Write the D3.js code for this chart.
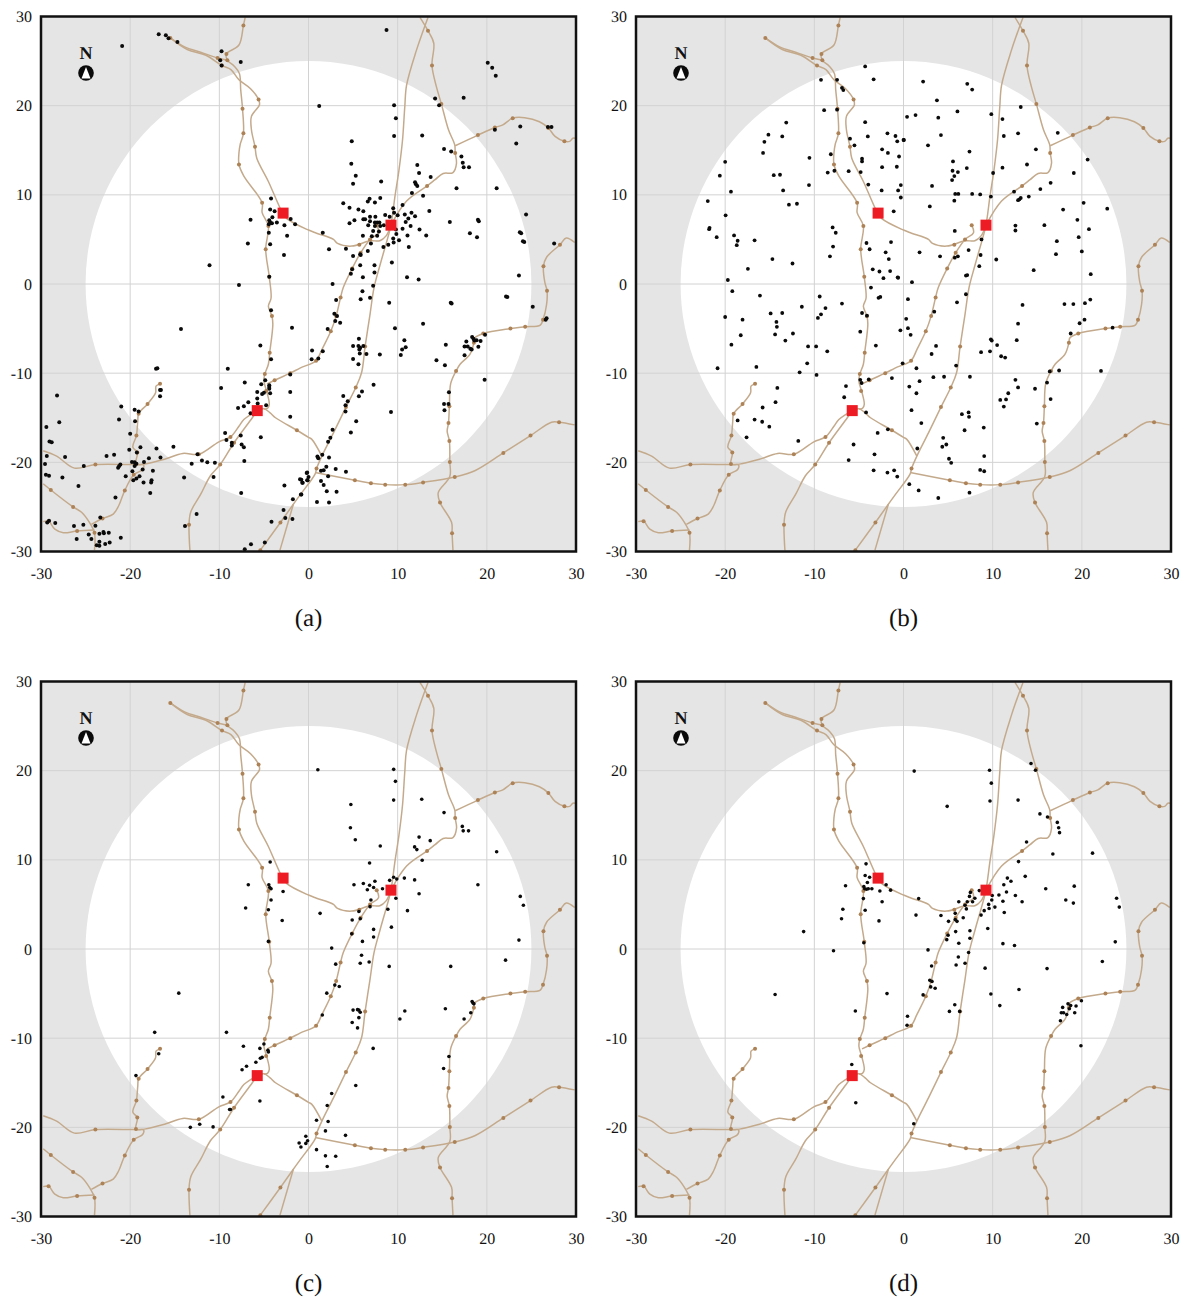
<!DOCTYPE html>
<html>
<head>
<meta charset="utf-8">
<script src="https://cdn.jsdelivr.net/npm/d3@7"></script>
<style>
  html, body { margin: 0; padding: 0; background: #fff; }
  svg { display: block; }
  text { font-family: "Liberation Serif", serif; fill: #111; text-rendering: geometricPrecision; }
</style>
</head>
<body>
<script>
// Tick labels and panel captions
const tickValues = [-30, -20, -10, 0, 10, 20, 30];
const panelLabels = ['(a)', '(b)', '(c)', '(d)'];

// Red squares
const hubs = [[-2.85, 7.95], [9.25, 6.6], [-5.75, -14.2]];

// Road network
const roads = [
  [[-7.1, 29.9], [-7.3, 29], [-7.8, 26.8], [-9.2, 25.8], [-9.1, 25.1], [-8.3, 24.4], [-7.75, 23.6], [-7.6, 21.75], [-7.4, 19.65], [-7.3, 16.9], [-7.65, 15.7], [-7.8, 14.7], [-7.8, 13.4], [-7.25, 12.1], [-5.2, 9.1], [-5.2, 8], [-4.5, 6.5], [-4.8, 3.9], [-4.4, 0.8], [-4.2, -1.6], [-4.5, -2.5], [-4.1, -3.6], [-4, -4.5], [-4.35, -7.7], [-4.5, -9], [-4.9, -10.1], [-5, -10.9], [-4.7, -12], [-4.4, -13.5], [-4.6, -13.95], [-5, -14]],
  [[-15.5, 27.6], [-13.9, 26.6], [-12.1, 26], [-10.2, 25.35], [-9.1, 25.1]],
  [[-15.5, 27.6], [-13.6, 26.3], [-11.5, 25.65], [-9.7, 24.5], [-8.7, 24.05], [-7.8, 22.9], [-6.5, 21.9], [-5.6, 20.7], [-5.5, 20.1], [-6.4, 18.8], [-6.4, 17.3], [-6, 15.4], [-5.8, 14.1], [-4.5, 11.5], [-3.2, 8.55], [-2.85, 7.95]],
  [[-2.85, 7.95], [-2.4, 7.3], [0, 6.05], [0.9, 5.7], [2.8, 5], [3.25, 4.55], [4.85, 4.25], [6.9, 4.85], [8, 4.85], [8.7, 5.4], [9.25, 6.6]],
  [[7.65, 6.6], [7.85, 5.75], [6.9, 5], [5.85, 3.5], [4.9, 1.75], [3.9, -0.4], [3.6, -1.5], [3.1, -3.6], [2.5, -5.3], [1.5, -7.35], [0.85, -8.6], [-0.9, -9.4], [-2.05, -10], [-3.8, -10.8], [-4.65, -11.2]],
  [[13.4, 29.9], [12.1, 26.2], [11, 22.3], [10.8, 19.9], [10.55, 16.2], [10.15, 12.8], [9.7, 9.85], [9.25, 6.6], [8.95, 5.4], [8, 2.05], [7.35, -0.4], [6.9, -3.4], [6.35, -7], [5.95, -9.95], [5.3, -11.6], [4.2, -13.8], [2.8, -16.7], [1.5, -19.3], [0.9, -20.7], [0.75, -21.3], [-0.9, -23.6], [-1.7, -24.7], [-3.15, -26.75], [-5.4, -29.85]],
  [[-1.7, -24.7], [-3.2, -29.85]],
  [[12.5, 29.9], [13.4, 28.4], [14.05, 27], [13.85, 24.5], [14.35, 22.1], [14.9, 20.2], [15.7, 17.3], [16.4, 15.6], [16.45, 14.7], [16.6, 13.55], [16.2, 12.5], [15.1, 12.4], [14.2, 11.7], [13.3, 11], [11, 9.3], [9.25, 6.6]],
  [[16.45, 15.5], [19, 16.7], [20.9, 17.55], [21.8, 17.85], [22.9, 18.6], [24.25, 18.65], [25.9, 18.2], [26.9, 17.5], [27.65, 16.55], [28.7, 16], [29.3, 16], [29.65, 16.35], [29.9, 16.35]],
  [[29.85, 4.65], [28.9, 5.15], [28.2, 4.4], [26.7, 3], [26.35, 2], [26.5, 0.2], [26.75, -0.75], [26.7, -2.3], [26.3, -4], [26, -4.6], [24.3, -4.8], [22.65, -5], [19.6, -5.55], [18.65, -6.05], [18.55, -6.6], [18.1, -7.9], [17, -9], [16.55, -9.75], [15.95, -11.15], [15.8, -13.7], [15.7, -15.6], [15.55, -16.5], [15.8, -17.6], [15.85, -19.95], [15.85, -21.6], [14.55, -23.4], [14.75, -24.5], [16.05, -26.75], [16.1, -27.95], [16.2, -29.85]],
  [[0.75, -21.15], [5.2, -22], [7, -22.35], [8.6, -22.5], [10.85, -22.5], [12.85, -22.25], [16.4, -21.65], [18.65, -20.95], [21.85, -18.95], [24.9, -17], [27.25, -15.5], [28.1, -15.5], [29.85, -15.8]],
  [[-5.75, -14.2], [-5, -14], [-4.3, -14.45], [-3.7, -15], [-1.3, -16.4], [0, -17.2], [0.35, -17.4], [1.5, -19.3]],
  [[-5.75, -14.2], [-7.25, -15.2], [-7.8, -15.95], [-8.75, -17.15], [-10.05, -17.7], [-12.3, -19.1], [-14.1, -19], [-16.15, -19.65], [-18.4, -20.2], [-19.35, -20.25], [-23.9, -20.25], [-26.25, -20.65], [-28.25, -19.3], [-29.75, -18.7]],
  [[-5.75, -14.2], [-6.3, -15], [-8.35, -17.8], [-9.9, -20.25], [-11, -21.5], [-12.1, -23.6], [-13.2, -25.55], [-13.4, -27], [-13.3, -29.85]],
  [[-16.65, -11.2], [-17.1, -11.45], [-17.15, -12.2], [-18.05, -13.45], [-19.05, -14.55], [-19.15, -15.4], [-19.3, -17], [-19.7, -18.3], [-19.2, -18.9], [-19.35, -20.2], [-18.5, -20.3], [-18.6, -20.8], [-19.6, -21.4], [-20.6, -23.15], [-21.3, -24.9], [-21.9, -25.8], [-23.1, -26.3], [-24.35, -26.95]],
  [[-29.75, -22.4], [-28.9, -23.1], [-26.4, -25], [-25.45, -25.6], [-24.5, -26.85], [-24, -27.9], [-24, -29.85]],
  [[-29.75, -26.65], [-29.15, -26.6], [-28.45, -27.5], [-27.5, -27.9], [-25.95, -27.7], [-24, -27.6]]
];

// Stations along the roads
const stations = [
  [-7.3, 29], [-9.2, 25.8], [-9.1, 25.1], [-10.2, 25.35], [-9.7, 24.5], [-15.5, 27.6], [-5.6, 20.7], [-7.4, 19.65], [-7.3, 16.9], [-6, 15.4], [-7.8, 13.4], [-5.2, 9.1], [-4.5, 6.5], [-4.8, 3.9], [-4.4, 0.8], [-4.1, -3.6], [-4.35, -7.7], [-4.9, -10.1], [-4.75, -12],
  [7.65, 6.6], [6.9, 5], [5.85, 3.5], [4.9, 1.75], [5.7, 4.4], [3.6, -1.5], [3.1, -3.6], [2.5, -5.3], [0.85, -8.6], [-2.05, -10], [-3.8, -10.8],
  [6.35, -7], [5.3, -11.6], [4.2, -13.8], [0.9, -20.7], [-3.15, -26.75], [-5.4, -29.85],
  [13.4, 28.4], [13.85, 24.5], [14.9, 20.2], [16.45, 14.7], [13.3, 11], [19, 16.7], [20.9, 17.55], [22.9, 18.6], [26.9, 17.5], [28.7, 16],
  [28.2, 4.4], [26.35, 2], [26.75, -0.75], [26.3, -4], [24.3, -4.8], [22.65, -5], [19.6, -5.55], [18.55, -6.6], [16.55, -9.75], [15.8, -13.7], [15.7, -15.6], [15.8, -17.6], [15.85, -19.95], [16.4, -21.65], [14.75, -24.5], [16.1, -27.95],
  [5.2, -22], [7, -22.35], [8.6, -22.5], [10.85, -22.5], [12.85, -22.25], [21.85, -18.95], [24.9, -17], [28.1, -15.5], [-1.3, -16.4],
  [-8.75, -17.15], [-12.3, -19.1], [-23.9, -20.25], [-8.35, -17.8], [-9.9, -20.25], [-13.4, -27],
  [-16.65, -11.2], [-18.05, -13.45], [-19.05, -14.55], [-19.3, -17], [-19.2, -18.9], [-19.35, -20.2], [-19.6, -21.4], [-20.6, -23.15], [-23.1, -26.3],
  [-28.9, -23.1], [-26.4, -25], [-24, -27.9], [-29.15, -26.6], [-25.95, -27.7]
];

// Scatter points of each panel
const pointsA = [
  [-20.9, 26.7], [-16.8, 28], [-16, 27.9], [-15.7, 27.55], [-14.7, 27.15], [-9.75, 26.1], [-7.6, 24.9], [-9.9, 25.1], [-9.75, 24.5],
  [-4.2, 9.6], [-4.3, 8.35], [-3.8, 8.15], [-4.05, 7.5], [-2, 7.3], [-1.5, 6.7], [-6.5, 7.2], [-4.4, 7.15], [-4.3, 6.9], [-4.1, 6.8], [-4.45, 6.7], [-3.55, 6.9], [-2.7, 6.6], [-2.4, 5.4], [-4.45, 5.75], [-6.8, 4.55], [-4.3, 4.45], [-2.75, 3.25], [-11.1, 2.1], [-4.4, 0.8], [-7.8, -0.1],
  [8.75, 28.5], [20.1, 24.8], [20.6, 24.25], [21, 23.35], [14.2, 20.8], [17.4, 20.9], [14.65, 20.05], [1.2, 19.95], [9.6, 20.05], [9.8, 18.6], [9.6, 16.6], [12.75, 16.65], [4.85, 16], [23.75, 17.65], [26.85, 17.6], [27.25, 17.6], [20.9, 17.3], [23.3, 15.75],
  [15.2, 15.15], [16, 14.85], [17.15, 14.3], [17.3, 13.6], [17.4, 13.1], [18, 13.1], [4.8, 13.5], [12.2, 13.35], [12.4, 12.45], [13.7, 12], [5.3, 12.15], [5, 11.25], [8.15, 11.5], [11.95, 11.4], [12.05, 11.2], [12.2, 11], [16.6, 10.75], [21.1, 10.75],
  [11.6, 10.2], [12.85, 9.9], [8.05, 9.65], [6.85, 9.55], [6.65, 9.25], [7.45, 9.15], [3.9, 9.05], [10.55, 8.85], [4.6, 8.55], [5.6, 8.35], [6.15, 8.15], [9.5, 8.5], [9.6, 8], [10, 7.7], [8.6, 7.75], [9.1, 7.55], [10.8, 7.8], [11.55, 8], [11.95, 7.6], [13.55, 8.2], [24.4, 7.8],
  [5.15, 7.15], [4.6, 6.8], [6.15, 7.25], [6.35, 7.25], [6.9, 7.55], [7.5, 7.55], [6.9, 7.05], [7.45, 6.9], [7.7, 6.9], [7.95, 6.9], [6.7, 6.6], [7.45, 6.5], [8.05, 6.5], [8.45, 6.6],
  [11.2, 7.35], [10.9, 6.95], [11.45, 6.5], [15.85, 6.95], [19, 7.2], [19.1, 7.05], [10.55, 6.2], [9.8, 6.1], [12.45, 6.1], [1.6, 5.75], [7.9, 5.9], [7.25, 5.95], [18.1, 5.7], [23.7, 5.8], [23.85, 5.7], [18.9, 5.25], [13.2, 5.45],
  [6.1, 5.4], [7.1, 5.35], [7.7, 5.4], [9.85, 5.6], [11.1, 5.45], [9.5, 5.1], [10.15, 4.9], [9.55, 4.65], [24.05, 4.8], [24.2, 4.7], [27.55, 4.55], [7, 4.55], [8.95, 4.4], [8.4, 4.15], [11.25, 4.15], [2.3, 3.9], [4.2, 3.95], [6.65, 3.7], [5.85, 3.25], [5, 3.15], [5.8, 3.35], [9.35, 2.4], [7.4, 2.1], [5.8, 2.1], [4.9, 1.65], [4.75, 1.15], [7.4, 1.3], [6.1, 0.75], [11.05, 0.75], [12.35, 0.5], [2.7, 0], [7.25, -0.2], [23.6, 0.95],
  [-4.2, -2.95], [-1.85, -4.9], [-14.3, -5.05], [-5.4, -6.9], [-4.2, -8.45], [-9.05, -9.5], [-17.1, -9.5], [-16.95, -9.45], [-2.05, -10.15], [-2.05, -12.1], [-7.15, -11.05], [-9.8, -11.65], [-5.3, -11.25], [-4.85, -10.8], [-4.4, -11.35], [-4.4, -11.55], [-4.4, -11.75], [-5.75, -12.1], [-5.2, -12.35], [-5, -12.2], [-4.3, -12.25], [-5.75, -12.85], [-5.7, -13.4], [-4.75, -13.6], [-6.75, -13.25], [-7.25, -13.7], [-7.9, -13.9], [-6.5, -14.5], [-2.05, -14.9],
  [-16.55, -11.9], [-16.65, -11.9], [-16.65, -12.6], [-28.2, -12.5], [-21, -13.75], [-19.5, -14.1], [-19.05, -14.3], [-21.25, -15.2], [-19.45, -15.4], [-27.95, -15.5], [-29.4, -16.05],
  [-20, -16.8], [-9.35, -16.7], [-7.6, -17], [-5.35, -17.2], [-29.05, -17.65], [-28.8, -17.75], [-9.2, -17.5], [-8.6, -17.8], [-8.6, -18.1], [-7.5, -18], [-7.25, -18.3], [-15.15, -18.25], [-18.85, -18.3], [-17.05, -18.45], [-20.1, -18.6], [-19.25, -18.9], [-21.8, -19.15], [-22.65, -19.3], [-29.35, -19.3], [-27.3, -19.4], [-17.9, -19.55], [-16.6, -19.45], [-12.45, -19.1], [-11.95, -19.8], [-11.35, -20], [-10.5, -20.05], [-7.2, -19.85], [-13.1, -20.15], [-18.45, -19.95], [-19.8, -19.95], [-19.5, -20], [-19.3, -20.15], [-19.5, -20.4], [-21.1, -20.25], [-21.25, -20.45], [-21.35, -20.6], [-25.2, -20.4], [-29.55, -20.2], [-18.6, -20.8], [-19.75, -21], [-17.45, -20.95], [-20.5, -21.55], [-18.95, -21.55], [-19.3, -21.8], [-19.65, -22], [-29.45, -21.4], [-29.1, -21.5], [-27.6, -21.7], [-17.6, -22], [-17.65, -22.25], [-18.5, -22.25], [-13.95, -21.7], [-10.65, -21.65], [-25.8, -22.65], [-17.75, -23.45], [-21.65, -23.95], [-7.55, -23.45], [-2.7, -22.6], [-1.75, -24.15], [-0.85, -23.6], [-0.95, -21.9], [-0.65, -22.3], [-0.2, -21.2], [-0.1, -22],
  [-2.8, -25.35], [-2.6, -26.25], [-1.8, -26.35], [-4.15, -26.65], [-12.55, -25.8], [-13.85, -27.15], [-23.35, -26.2], [-29.1, -26.55], [-29.3, -26.75], [-28.4, -26.8], [-26.3, -27.15], [-25.25, -27], [-23.9, -27.1], [-24.65, -28.1], [-23.45, -28], [-23, -27.8], [-22.95, -27.95], [-22.4, -27.9], [-26, -28.6], [-24.35, -28.6], [-21.05, -28.45], [-23.45, -28.9], [-23.75, -29.3], [-23.45, -29.35], [-22.8, -29.15], [-22.3, -29], [-6.45, -29.2], [-4.9, -29], [-7.15, -29.75],
  [6.05, -0.8], [5.85, -1.7], [6.9, -1.55], [3.1, -1.8], [9.05, -2.1], [15.95, -2.1], [16.05, -2.2], [22.15, -1.4], [22.3, -1.45], [25.15, -2.55], [26.7, -3.85], [26.6, -4], [2.9, -3.35], [3.2, -3.6], [3, -4.15], [3.55, -4.35], [2.15, -5.05], [9.7, -4.95], [12.85, -4.45],
  [5.65, -6.15], [10.75, -6.3], [5, -6.95], [5.6, -6.95], [5.8, -7.15], [6.15, -6.95], [5.7, -7.35], [10.9, -7.1], [10.5, -7.35], [0.4, -7.45], [1.6, -7.55], [5.75, -7.8], [6.5, -7.85], [8, -7.9], [10.35, -7.95], [0.35, -8.45], [1.1, -8.35], [5, -8.4], [5.6, -9],
  [7.3, -11.3], [6, -12.05], [3.9, -12.55], [5.65, -12.6], [4.4, -13.15], [4.15, -13.6], [4.15, -14.3], [9.25, -14.35], [5.35, -15.4], [4.75, -16.65], [2.7, -16.35], [2.45, -17.25], [2.2, -17.7], [1, -19.35], [1.1, -19.55], [1.55, -19.15], [2.3, -19.45], [2, -20.5], [1.7, -20.9], [1.4, -20.95], [3.05, -20.75], [4.2, -21.05], [-0.15, -21.15], [2.2, -21.55], [0, -21.65], [-0.15, -22], [-0.8, -21.95], [-0.7, -22.3], [1.4, -22.1], [1.7, -22.55], [2.05, -23.25], [3.15, -23.3], [-0.8, -23.6], [0.95, -24.45], [2.3, -24.5],
  [15.4, -6.8], [17.7, -6.45], [18.35, -5.95], [18.5, -6.15], [18.6, -6.35], [18.85, -6.3], [19.3, -6.4], [19.8, -5.7], [17.5, -7], [17.85, -7], [18.15, -7.25], [18.3, -7.35], [19.05, -7.05], [17.5, -8], [14.35, -8.55], [15.3, -9.1], [19.75, -10.75], [15.75, -12.15], [15.2, -13.45], [15.7, -13.45], [15.25, -14.15]
];

const pointsB = [
  [-4.3, 24.4], [-3.35, 22.95], [-9.25, 22.9], [-7.45, 22.9], [-6.9, 22], [-6.75, 21.75], [-8.9, 19.5], [-7.45, 19.55], [-13.15, 18.1], [-4.3, 18.15], [-15.15, 16.75], [-13.6, 16.55], [-15.6, 15.95], [-15.75, 14.7], [-6, 16.3], [-4, 16.55], [-5.5, 15.55], [-1.8, 16.9], [-0.9, 16.6], [-0.7, 16], [0, 16.15], [-2.4, 15.1], [-1.75, 14.7], [-0.5, 14.3], [-10.55, 14.15], [-8.15, 14.55], [-4.65, 14.05], [-4.65, 13.75], [-2.4, 13.1], [-0.75, 13.15], [-20, 13.7], [-20.6, 12.15], [-14.55, 12.2], [-13.85, 12.25], [-8.5, 12.5], [-7.75, 12.7], [-6.15, 12.65], [-4.8, 12.55], [-10.6, 11.1], [-3.95, 11.15], [-0.3, 11.1], [-19.35, 10.35], [-13.5, 10.5], [-2.45, 10.5], [-0.6, 10.5], [-0.3, 9.7], [-21.95, 9.3], [-12.85, 8.9], [-11.95, 9], [-1.1, 8.15], [-19.95, 7.7], [-21.75, 6.3], [-21.8, 6.15], [-7.95, 6.35], [-7.6, 5.75], [-20.95, 5.25], [-19, 5.45], [-18.6, 4.85], [-18.7, 4.35], [-16.7, 4.9], [-4.15, 4.6], [-1.4, 4.7], [-3.8, 3.9], [-7.9, 4.2], [-2, 3.55], [-8.25, 3.1], [-14.7, 2.8], [-12.45, 2.3], [-1.65, 2.8], [-17.45, 1.7], [-3.45, 1.65], [-2.7, 1.4], [-2.25, 0.65], [-1.5, 1.45], [-0.65, 0.75], [-19.7, 0.45], [-3.65, -0.4],
  [-19.2, -0.8], [-16.1, -1.3], [-9.4, -1.4], [-2.8, -1.55], [-2.6, -1.45], [-6.9, -2.2], [-11.4, -2.55], [-8.75, -2.7], [-9.25, -3.4], [-9.6, -3.8], [-14.9, -3.3], [-13.6, -3.25], [-4.65, -3.25], [-4.1, -3.55], [-20, -3.7], [-18.05, -4], [-14.25, -4.25], [-14.2, -4.8], [-14.4, -5.65], [-18.25, -5.75], [-12.4, -5.55], [-4.85, -5.35], [-0.35, -5.2], [-13.25, -6.35], [-19.3, -6.8], [-10.7, -7], [-9.8, -7], [-3.1, -6.9], [-8.55, -7.55], [-10.8, -8.9], [-0.1, -8.9], [-20.85, -9.45], [-16.5, -9.3], [-11.65, -9.9], [-9.75, -10.2], [-4.85, -10.75], [-4.7, -11.1], [-3.9, -10.7], [-1.3, -10.55], [-6.45, -11.45], [-14.15, -11.65], [-6.65, -12.7], [-14.35, -13.25], [-15.8, -13.85], [-4.2, -14.4], [-18.6, -15.3], [-16.7, -15.2], [-15.85, -15.45], [-15.05, -16], [-1.75, -16.3], [-2.9, -16.7], [-17.6, -17.2], [-11.8, -17.6], [-5.6, -18], [-3.25, -19.1], [-6.15, -19.75], [-3.35, -20.9], [-1.8, -21.15], [-1.05, -20.9], [-0.7, -21.6],
  [2.2, 22.7], [7.15, 22.45], [7.7, 21.8], [3.75, 20.6], [13.15, 19.85], [6.05, 19.35], [0.4, 18.75], [1.35, 18.95], [3.9, 18.65], [9.85, 19.05], [11.1, 18.5], [0.05, 16.15], [4.2, 16.7], [2.75, 15.55], [11.25, 16.6], [12.85, 16.9], [17.3, 16.95], [14.85, 15.1], [7.4, 14.85], [5.55, 13.75], [5.5, 12.7], [6.1, 12.55], [5.7, 12.1], [5.45, 11.65], [7.1, 13], [11.1, 13.05], [13.85, 13.4], [10.05, 12.45], [20.65, 13.95], [19.1, 12.45], [16.5, 11.35], [3.2, 11], [5.8, 10.1], [6.15, 10.1], [7.7, 10.1], [8.6, 10.05], [9.8, 9.8], [5.7, 9.35], [12.4, 10.35], [15.35, 10.65], [14.05, 9.8], [13.15, 9.65], [13, 9.5], [12.85, 9.4], [20.2, 9.1], [22.85, 8.45], [2.95, 8.7], [17.9, 8.35], [19.5, 7.2], [12.55, 6.55], [15.8, 6.6], [12.55, 6], [20.8, 6.15], [5.75, 5.95], [19.65, 5.25], [8.75, 5], [17.2, 4.8], [7.3, 3.8], [20, 3.65], [1.8, 3.55], [4.1, 3.1], [5.75, 2.95], [6.1, 3.1], [8.65, 3.25], [17.1, 3.35], [10.4, 2.75], [8.5, 2], [14.6, 1.55], [7, 0.95], [7.15, 1], [21, 1.1], [-0.6, 0.7], [0.95, 0.2],
  [0.5, -1.7], [6, -2.05], [7, -1.15], [13.35, -2.35], [18.05, -2.25], [19.05, -2.25], [20.35, -2.15], [20.95, -1.75], [3.45, -3.1], [0.3, -3.9], [20.3, -4], [19.75, -4.4], [12.85, -4.45], [0.5, -4.95], [0.8, -5.7], [18.75, -5.55], [23.45, -4.9], [9.8, -6.2], [9.9, -6.35], [12.7, -6.3], [10.5, -6.85], [3.65, -6.95], [3.15, -7.85], [8.7, -7.65], [9.7, -7.55], [10.95, -8.1], [11.4, -8.25], [5.9, -9.15], [1.45, -9.45], [16.4, -9.8], [17.45, -9.7], [22.15, -9.75], [3.35, -10.45], [4.55, -10.4], [7.45, -10.4], [1.8, -10.9], [12.55, -10.75], [16.1, -11.05], [0.65, -11.5], [12.85, -11.6], [14.75, -11.75], [1.45, -12.25], [11.75, -12.25], [10.85, -13], [11.5, -12.95], [16.5, -12.9], [11.25, -13.75], [0.9, -14.15], [6.55, -14.6], [7.3, -14.4], [7.35, -14.9], [2, -15.6], [14.95, -15.65], [9, -16.1], [6.85, -16.4], [4.45, -17.25], [4.8, -18], [4.35, -18.25], [1.55, -18.45], [9.05, -19.3], [5.1, -19.6], [5.35, -20.05], [8.6, -20.85], [9.05, -21], [0.65, -22.45], [1.7, -23.15], [7.4, -23.4], [3.9, -24]
];

const pointsC = [
  [1.05, 20.1], [9.55, 20.15], [9.75, 18.8], [9.55, 16.7], [12.7, 16.8], [4.75, 16.2], [15.2, 15.3], [4.7, 13.6], [17.25, 13.75], [17.35, 13.25], [17.95, 13.25], [5.25, 12.25], [12.4, 12.55], [13.65, 12.15], [8.05, 11.55], [11.9, 11.45], [12.15, 11.15], [21.1, 10.9], [12.75, 9.95], [6.85, 9.65], [-4.3, 9.75],
  [9.55, 8.05], [9.9, 7.85], [9.1, 7.7], [10.75, 7.95], [11.9, 7.75], [7.45, 7.6], [6.15, 7.35], [5.1, 7.2], [6.85, 7.15], [7.3, 6.9], [6.6, 6.65], [8.3, 6.75], [19, 7.2], [12.4, 6.2], [9.8, 5.7], [23.75, 5.9], [24.1, 4.9], [7, 5.5], [6.9, 4.75], [8.9, 4.45], [11.1, 4.3], [5.65, 4.2], [1.3, 4], [4.9, 3.25], [5.8, 3.4], [9.3, 2.45], [7.3, 2.2], [4.85, 1.7], [7.3, 1.35], [6.05, 0.85], [2.6, 0.1], [23.6, 1], [5.95, -0.7], [22.1, -1.25], [3.05, -1.7], [5.8, -1.6], [6.8, -1.45], [9.05, -1.95], [15.95, -1.95], [2.95, -4.05], [3.45, -4.2], [2.05, -4.95], [-14.55, -4.95],
  [-4.45, 7.2], [-4.35, 6.9], [-4.2, 6.75], [-6.75, 7.2], [-4.2, 5.5], [-2.85, 6.45], [-7.05, 4.6], [-4.5, 4.4], [-2.95, 3.2], [-4.5, 0.85],
  [5, -6.85], [5.5, -6.8], [5.65, -6.85], [5.8, -7.1], [5.65, -7.7], [4.9, -8.25], [5.5, -8.85], [1.55, -7.4], [10.8, -6.95], [10.25, -7.85], [15.35, -6.7], [18.35, -5.9], [18.45, -6.05], [18.55, -6.15], [18.2, -7.15], [17.45, -7.85],
  [-17.25, -9.35], [-9.2, -9.35], [-16.8, -11.75], [-19.35, -14.2], [-5, -10.65], [-7.3, -10.9], [-5.45, -11.15], [-4.55, -11.35], [-4.5, -11.55], [-5.2, -12.15], [-5.4, -12.25], [-5.9, -12.7], [-6.95, -13.15], [-7.45, -13.55], [7.25, -11.15], [15.75, -12.05], [15.15, -13.4], [5.3, -15.3], [2.6, -16.2], [2.1, -17.55], [-5.45, -17.05], [-9.6, -16.6], [-8.85, -18], [-8.75, -18],
  [0.9, -19.2], [2.2, -19.35], [1.9, -20.4], [4.15, -20.9], [-13.25, -20], [-12.2, -19.65], [-10.7, -19.95], [-0.3, -21], [-0.1, -21.5], [-0.3, -21.8], [-1.05, -21.75], [-0.85, -22.2], [0.9, -22.5], [1.9, -23.2], [3.05, -23.25], [2.1, -24.4]
];

const pointsD = [
  [1.2, 19.95], [9.65, 20.05], [9.85, 18.6], [9.7, 16.6], [12.85, 16.7], [4.9, 16], [14.3, 20.8], [14.8, 20.05], [15.3, 15.15], [16.15, 14.8], [17.25, 14.2], [17.4, 13.6], [17.5, 13.05], [13.8, 12], [16.75, 10.65], [21.2, 10.75], [12.9, 9.8],
  [-4.2, 9.55], [-4.3, 8.25], [-3.8, 8.05], [-4.05, 7.45], [-1.95, 7.2], [-1.45, 6.6], [-6.5, 7.1], [-4.45, 7], [-4.35, 6.75], [-4.15, 6.7], [-3.95, 6.75], [-3.55, 6.75], [-2.65, 6.5], [-4.5, 5.65], [-2.4, 5.3], [-6.8, 4.45], [-4.3, 4.35], [-2.75, 3.15], [-6.95, 3.4], [-11.2, 1.95], [-4.45, 0.7], [-7.85, -0.2], [1.7, 5.65], [1.4, 3.8], [4.2, 3.75], [5.05, 3.1],
  [11.65, 7.95], [12.05, 7.6], [11.25, 7.2], [13.65, 8.15], [11.55, 6.4], [12.55, 6], [15.95, 6.75], [19.15, 7.05], [10.7, 6.05], [11.15, 5.35], [13.3, 5.3], [18.2, 5.5], [19.05, 5.15], [23.9, 5.7], [24.2, 4.7], [11.3, 4.1], [10.25, 4.7],
  [8.5, 6.55], [7.5, 6.35], [7.4, 5.9], [8, 5.7], [7.75, 5.3], [7.15, 5.3], [6.2, 5.3], [7.05, 4.5], [6.9, 4.9], [9.95, 6], [9.9, 5.5], [9.55, 5], [9.6, 4.55], [9.05, 4.3], [8.7, 3.8], [5.8, 4], [5.8, 3.3], [6, 3.1], [6.7, 3.5], [9.45, 2.3], [7.45, 2.05], [5.85, 1.95], [5, 1.55], [4.85, 1.05], [7.45, 1.2], [6.2, 0.65], [11.15, 0.6], [12.45, 0.4], [2.75, -0.1], [23.75, 0.8], [7.3, -0.4], [6.15, -0.9], [5.9, -1.8], [6.9, -1.6], [3.15, -1.9], [9.15, -2.15], [16.1, -2.2], [22.3, -1.4],
  [2.95, -3.5], [3.2, -3.65], [3.05, -4.25], [3.55, -4.4], [2.2, -5.15], [-1.85, -5], [-14.4, -5.1], [9.8, -5.05], [12.95, -4.55], [10.8, -6.35], [5.75, -6.25], [5.15, -7], [6.3, -7], [-5.4, -6.95], [0.45, -7.55], [0.4, -8.55],
  [18.45, -6.15], [18.75, -6.35], [19.35, -6.4], [19.95, -5.8], [17.85, -6.55], [17.7, -7.15], [17.95, -7.15], [18.3, -7.35], [18.6, -6.7], [19.2, -7.15], [17.6, -8.05], [19.9, -10.85], [-5.8, -12.95], [-5.35, -17.25], [1.15, -19.6]
];

const pointSets = [pointsA, pointsB, pointsC, pointsD];

// Width and height
const w = 1189;
const h = 1300;
const plotW = 535;
const plotH = 535;
const lefts = [41, 636, 41, 636];
const tops = [16.5, 16.5, 681.5, 681.5];
const pointRadius = [2, 1.9, 1.8, 1.8];

const xScale = d3.scaleLinear().domain([-30, 30]).range([0, plotW]);
const yScale = d3.scaleLinear().domain([-30, 30]).range([plotH, 0]);

const roadLine = d3
  .line()
  .x(d => xScale(d[0]))
  .y(d => yScale(d[1]))
  .curve(d3.curveCatmullRom.alpha(0.5));

const svg = d3
  .select('body')
  .append('svg')
  .attr('width', w)
  .attr('height', h);

svg
  .append('clipPath')
  .attr('id', 'plot-area')
  .append('rect')
  .attr('width', plotW)
  .attr('height', plotH);

pointSets.forEach((points, i) => {
  const panel = svg
    .append('g')
    .attr('transform', 'translate(' + lefts[i] + ',' + tops[i] + ')');

  const plot = panel.append('g').attr('clip-path', 'url(#plot-area)');

  plot
    .append('rect')
    .attr('width', plotW)
    .attr('height', plotH)
    .attr('fill', '#e5e5e5');

  // Survey range
  plot
    .append('circle')
    .attr('cx', xScale(0))
    .attr('cy', yScale(0))
    .attr('r', xScale(25) - xScale(0))
    .attr('fill', '#fff');

  // Grid
  plot
    .selectAll('line.gx')
    .data(tickValues.slice(1, -1))
    .enter()
    .append('line')
    .attr('x1', d => xScale(d))
    .attr('x2', d => xScale(d))
    .attr('y1', 0)
    .attr('y2', plotH)
    .attr('stroke', '#d2d2d2')
    .attr('stroke-width', 1);

  plot
    .selectAll('line.gy')
    .data(tickValues.slice(1, -1))
    .enter()
    .append('line')
    .attr('x1', 0)
    .attr('x2', plotW)
    .attr('y1', d => yScale(d))
    .attr('y2', d => yScale(d))
    .attr('stroke', '#d2d2d2')
    .attr('stroke-width', 1);

  plot
    .selectAll('path.road')
    .data(roads)
    .enter()
    .append('path')
    .attr('d', roadLine)
    .attr('fill', 'none')
    .attr('stroke', '#c4aa8c')
    .attr('stroke-width', 1.5)
    .attr('stroke-linejoin', 'round');

  plot
    .selectAll('circle.station')
    .data(stations)
    .enter()
    .append('circle')
    .attr('cx', d => xScale(d[0]))
    .attr('cy', d => yScale(d[1]))
    .attr('r', 2)
    .attr('fill', '#ad8256');

  plot
    .selectAll('circle.point')
    .data(points)
    .enter()
    .append('circle')
    .attr('cx', d => xScale(d[0]))
    .attr('cy', d => yScale(d[1]))
    .attr('r', pointRadius[i])
    .attr('fill', '#0a0a0a');

  plot
    .selectAll('rect.hub')
    .data(hubs)
    .enter()
    .append('rect')
    .attr('x', d => xScale(d[0]) - 5.5)
    .attr('y', d => yScale(d[1]) - 5.5)
    .attr('width', 11)
    .attr('height', 11)
    .attr('fill', '#ed1c24');

  // North marker
  const north = panel.append('g').attr('transform', 'translate(45,42.5)');
  north
    .append('text')
    .attr('text-anchor', 'middle')
    .attr('font-size', 18)
    .attr('font-weight', 'bold')
    .text('N');
  north
    .append('circle')
    .attr('cy', 14)
    .attr('r', 7.8)
    .attr('fill', '#0a0a0a');
  north
    .append('path')
    .attr('d', 'M0,8 L4.5,19.5 L-4.5,19.5 Z')
    .attr('fill', '#fff');

  // Frame
  panel
    .append('rect')
    .attr('width', plotW)
    .attr('height', plotH)
    .attr('fill', 'none')
    .attr('stroke', '#111')
    .attr('stroke-width', 2.5);

  const xAxis = d3
    .axisBottom(xScale)
    .tickValues(tickValues)
    .tickSize(0)
    .tickPadding(16)
    .tickFormat(d => String(d));

  const yAxis = d3
    .axisLeft(yScale)
    .tickValues(tickValues)
    .tickSize(0)
    .tickPadding(9)
    .tickFormat(d => String(d));

  const xg = panel
    .append('g')
    .attr('transform', 'translate(0,' + plotH + ')')
    .call(xAxis);
  const yg = panel.append('g').call(yAxis);

  xg.select('.domain').remove();
  yg.select('.domain').remove();
  panel
    .selectAll('.tick text')
    .attr('font-size', 16)
    .style('fill', '#111');

  panel
    .append('text')
    .attr('x', xScale(0))
    .attr('y', plotH + 74)
    .attr('text-anchor', 'middle')
    .attr('font-size', 25)
    .text(panelLabels[i]);
});
</script>
</body>
</html>
